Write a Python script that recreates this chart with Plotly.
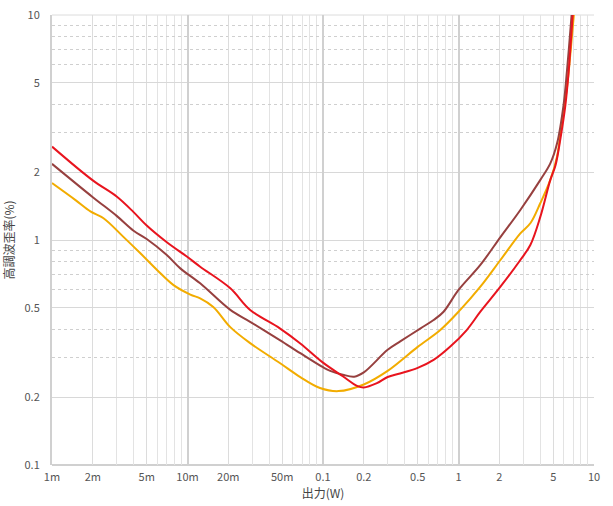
import plotly.graph_objects as go

# Output power (W) and harmonic distortion (%)
power_red = [0.001, 0.002, 0.003, 0.004, 0.005, 0.007, 0.01, 0.0124, 0.0207, 0.029, 0.048, 0.068,
             0.1, 0.14, 0.18, 0.2, 0.25, 0.3, 0.37, 0.5, 0.655, 0.87, 1.15, 1.45, 2.04, 2.86,
             3.39, 4.02, 4.76, 5.2, 5.66, 6.15, 6.5, 6.97, 7.3]
thd_red = [2.60, 1.84, 1.56, 1.33, 1.16, 0.98, 0.84, 0.761, 0.61, 0.489, 0.405, 0.347,
           0.285, 0.248, 0.224, 0.221, 0.231, 0.246, 0.255, 0.27, 0.293, 0.336, 0.398, 0.48, 0.62, 0.815,
           0.95, 1.27, 1.85, 2.15, 2.84, 3.98, 5.6, 10.0, 14.0]

power_brown = [0.001, 0.002, 0.003, 0.004, 0.005, 0.007, 0.00885, 0.0124, 0.0207, 0.029, 0.048, 0.068,
               0.1, 0.113, 0.14, 0.17, 0.2, 0.3, 0.374, 0.525, 0.655, 0.776, 1.0, 1.45, 2.04, 2.86,
               4.02, 4.76, 5.34, 5.96, 6.31, 6.68, 7.0]
thd_brown = [2.18, 1.55, 1.28, 1.10, 1.01, 0.86, 0.748, 0.642, 0.489, 0.433, 0.359, 0.314,
             0.272, 0.262, 0.252, 0.247, 0.258, 0.325, 0.355, 0.405, 0.441, 0.48, 0.60, 0.775, 1.03, 1.36,
             1.85, 2.19, 2.69, 3.98, 5.6, 8.43, 12.0]

power_orange = [0.001, 0.0015, 0.00192, 0.0024, 0.00338, 0.00449, 0.00596, 0.00789, 0.0105, 0.0124,
                0.0155, 0.0207, 0.029, 0.048, 0.068, 0.095, 0.13, 0.2, 0.3, 0.5, 0.734, 1.03, 1.45,
                2.04, 2.86, 3.4, 4.02, 4.76, 5.34, 5.8, 6.31, 6.75, 7.1, 7.5]
thd_orange = [1.79, 1.50, 1.34, 1.25, 1.03, 0.873, 0.736, 0.63, 0.572, 0.55,
              0.504, 0.41, 0.348, 0.284, 0.246, 0.22, 0.213, 0.228, 0.262, 0.335, 0.398, 0.489, 0.62,
              0.815, 1.07, 1.19, 1.46, 1.85, 2.35, 3.36, 4.72, 7.1, 10.0, 14.0]

x_tickvals = [0.001, 0.002, 0.005, 0.01, 0.02, 0.05, 0.1, 0.2, 0.5, 1, 2, 5, 10]
x_ticktext = ["1m", "2m", "5m", "10m", "20m", "50m", "0.1", "0.2", "0.5", "1", "2", "5", "10"]
x_minor = [m * d for d in [0.001, 0.01, 0.1, 1] for m in [3, 4, 6, 7, 8, 9]]
x_decades = [0.001, 0.01, 0.1, 1, 10]

y_tickvals = [0.1, 0.2, 0.5, 1, 2, 5, 10]
y_ticktext = ["0.1", "0.2", "0.5", "1", "2", "5", "10"]
y_minor = [m * d for d in [0.1, 1] for m in [3, 4, 6, 7, 8, 9]]

fig = go.Figure()

# invisible trace that carries the decade-grid overlay axis
fig.add_trace(go.Scatter(x=power_red, y=thd_red, xaxis="x2", mode="lines",
                         line=dict(width=0), opacity=0, hoverinfo="skip", showlegend=False))

for px_, vals, col in [(power_orange, thd_orange, "#f2ac00"),
                       (power_brown, thd_brown, "#97403f"),
                       (power_red, thd_red, "#e8141e")]:
    fig.add_trace(go.Scatter(x=px_, y=vals, mode="lines",
                             line=dict(color=col, width=2, shape="spline", smoothing=1.0),
                             showlegend=False))

font_fam = "Noto Sans CJK JP, Noto Sans, sans-serif"

fig.update_layout(
    width=613, height=506,
    margin=dict(l=52, r=19, t=15, b=41),
    paper_bgcolor="white", plot_bgcolor="white",
    font=dict(family=font_fam, size=11, color="#555555"),
    xaxis=dict(type="log", range=[-3, 1], tickvals=x_tickvals, ticktext=x_ticktext,
               showgrid=True, gridcolor="#dcdcdc", gridwidth=1, automargin=False,
               ticklabeloverflow="allow",
               minor=dict(tickvals=x_minor, showgrid=True, gridcolor="#e3e3e3", gridwidth=1, ticks=""),
               ticks="", zeroline=False, showline=False, ticklabelstandoff=4,
               title=dict(text="出力(W)", font=dict(size=12, color="#444444"), standoff=4)),
    xaxis2=dict(type="log", range=[-3, 1], overlaying="x", tickvals=x_decades,
                showticklabels=False, showgrid=True, gridcolor="#d0d0d0", gridwidth=2,
                ticks="", zeroline=False, showline=False, automargin=False),
    yaxis=dict(type="log", range=[-1, 1], tickvals=y_tickvals, ticktext=y_ticktext,
               showgrid=True, gridcolor="#d8d8d8", gridwidth=1, automargin=False,
               ticklabeloverflow="allow",
               minor=dict(tickvals=y_minor, showgrid=True, gridcolor="#cfcfcf", gridwidth=1,
                          griddash="dot", ticks=""),
               ticks="", zeroline=False, showline=True, linecolor="#d0d0d0", linewidth=2,
               ticklabelstandoff=8,
               title=dict(text="高調波歪率(%)", font=dict(size=12, color="#444444"), standoff=8)),
)

fig.add_shape(type="line", xref="paper", yref="paper", x0=0, x1=1, y0=0, y1=0,
              line=dict(color="#d0d0d0", width=2), layer="below")
fig.add_shape(type="line", xref="paper", yref="paper", x0=0, x1=1, y0=1, y1=1,
              line=dict(color="#dcdcdc", width=1), layer="below")

fig.write_html("out.html",
               config={"displayModeBar": False},
               post_script="document.body.style.margin='0';document.body.style.padding='0';")
